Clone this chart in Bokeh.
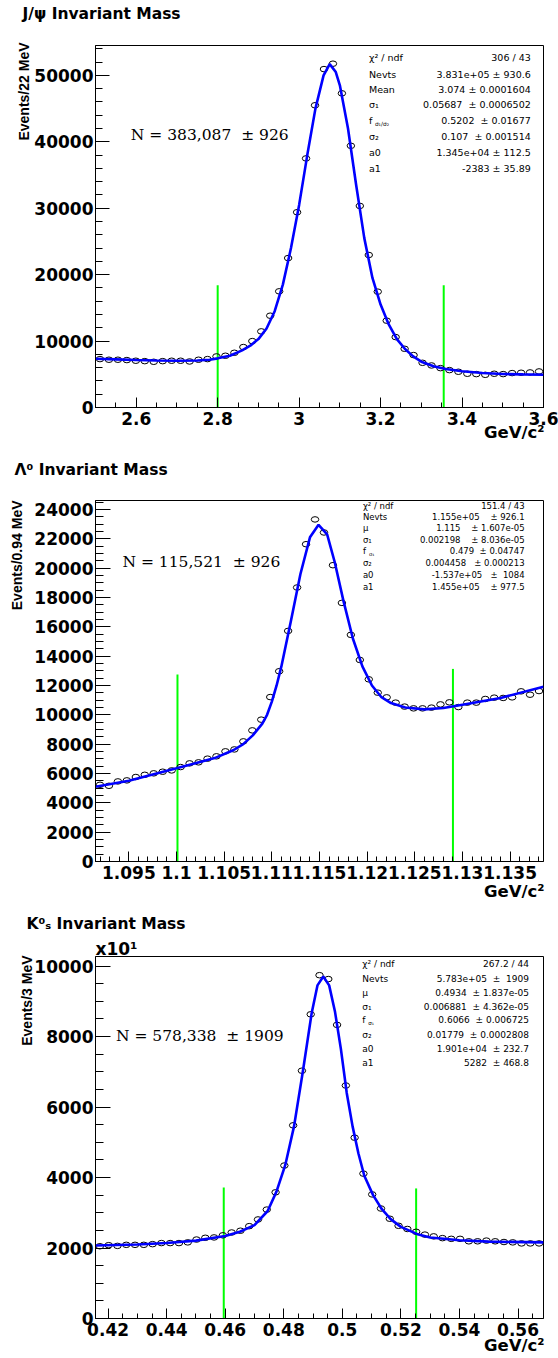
import numpy as np
from bokeh.plotting import figure
from bokeh.layouts import column
from bokeh.models import Label, FixedTicker, CustomJSTickFormatter, Range1d, Title
from bokeh.embed import file_html
from bokeh.resources import INLINE

# ---------------------------------------------------------------- data
# J/psi panel
jpsi_range = (2.5, 3.6)
jpsi_bin_width = 0.022
jpsi_counts = [7290, 7190, 7190, 7140, 7040, 6980, 6880, 6980, 7040, 7040,
               6930, 7190, 7290, 7690, 7790, 8240, 9100, 10000, 11460, 13820,
               17490, 22500, 29400, 37500, 45500, 50950, 51760, 47300, 39400, 30350,
               22960, 17440, 13070, 10600, 8840, 7890, 6730, 6330, 5930, 5630,
               5380, 5080, 5030, 4920, 5080, 5030, 5180, 5230, 5280, 5430]
jpsi_fit_x = [2.50, 2.55, 2.60, 2.65, 2.70, 2.75, 2.78, 2.80, 2.83, 2.86, 2.88, 2.90,
              2.92, 2.94, 2.96, 2.98, 3.00, 3.02, 3.04, 3.06, 3.075, 3.09, 3.10, 3.12,
              3.14, 3.16, 3.18, 3.20, 3.22, 3.24, 3.26, 3.28, 3.30, 3.33, 3.36, 3.40,
              3.45, 3.50, 3.55, 3.60]
jpsi_fit_y = [7350, 7250, 7150, 7070, 7030, 7070, 7200, 7400, 7800, 8600, 9300, 10300,
              11900, 14500, 18500, 24000, 30500, 38000, 45000, 50000, 51700, 50500, 48500, 42000,
              33500, 25500, 19500, 15500, 12500, 10300, 8800, 7700, 6900, 6200, 5800, 5450,
              5200, 5050, 4980, 4920]
jpsi_cuts = [2.80, 3.355]
jpsi_cut_heights = [18400, 18400]
jpsi_ymax = 54500
jpsi_xticks = [2.6, 2.8, 3.0, 3.2, 3.4, 3.6]
jpsi_yticks = [0, 10000, 20000, 30000, 40000, 50000]
jpsi_title = "J/ψ Invariant Mass"
jpsi_ytitle = "Events/22 MeV"
jpsi_stat_labels = ["χ² / ndf", "Nevts", "Mean", "σ₁", "f", "σ₂", "a0", "a1"]
jpsi_stat_values = ["306 / 43", "3.831e+05 ± 930.6", "3.074 ± 0.0001604",
                    "0.05687\u00a0\u00a0± 0.0006502", "0.5202\u00a0\u00a0± 0.01677",
                    "0.107\u00a0\u00a0± 0.001514", "1.345e+04 ± 112.5", "-2383 ± 35.89"]
jpsi_f_sub = "σ₁/σ₂"
jpsi_yield = "N = 383,087\u00a0\u00a0± 926"

# Lambda panel
lam_range = (1.0915, 1.1385)
lam_bin_width = 0.00094
lam_counts = [5230, 5160, 5460, 5530, 5760, 5910, 6010, 6120, 6210, 6440,
              6690, 6760, 7010, 7170, 7510, 7640, 8190, 8940, 9670, 11210,
              12970, 15720, 18680, 21630, 23320, 22430, 20200, 17630, 15450, 13740,
              12420, 11510, 11190, 10830, 10560, 10440, 10440, 10490, 10710, 10850,
              10530, 10830, 10830, 11080, 11170, 11150, 11190, 11600, 11370, 11620]
lam_fit_x = [1.0915, 1.095, 1.100, 1.104, 1.106, 1.107, 1.108, 1.109, 1.1095, 1.110,
             1.1105, 1.111, 1.112, 1.113, 1.114, 1.1149, 1.1158, 1.1166, 1.1175, 1.1185,
             1.1195, 1.1205, 1.1215, 1.1225, 1.124, 1.126, 1.128, 1.130, 1.134, 1.1385]
lam_fit_y = [5100, 5500, 6350, 7050, 7600, 8000, 8600, 9400, 10000, 10900,
             12000, 13300, 16400, 19600, 22100, 22950, 22300, 20400, 17800, 15200,
             13300, 12000, 11200, 10800, 10500, 10370, 10460, 10690, 11150, 11920]
lam_cuts = [1.1001, 1.129]
lam_cut_heights = [12740, 13130]
lam_ymax = 24610
lam_xticks = [1.095, 1.1, 1.105, 1.11, 1.115, 1.12, 1.125, 1.13, 1.135]
lam_yticks = [0, 2000, 4000, 6000, 8000, 10000, 12000, 14000, 16000, 18000, 20000, 22000, 24000]
lam_title = "Λ⁰ Invariant Mass"
lam_ytitle = "Events/0.94 MeV"
lam_stat_labels = ["χ² / ndf", "Nevts", "μ", "σ₁", "f", "σ₂", "a0", "a1"]
lam_stat_values = ["151.4 / 43", "1.155e+05\u00a0\u00a0\u00a0\u00a0± 926.1",
                   "1.115\u00a0\u00a0\u00a0\u00a0± 1.607e-05", "0.002198\u00a0\u00a0\u00a0\u00a0± 8.036e-05",
                   "0.479\u00a0\u00a0± 0.04747", "0.004458\u00a0\u00a0\u00a0± 0.000213",
                   "-1.537e+05\u00a0\u00a0\u00a0±\u00a0\u00a01084", "1.455e+05\u00a0\u00a0\u00a0\u00a0± 977.5"]
lam_f_sub = "σ₁"
lam_yield = "N = 115,521\u00a0\u00a0± 926"

# K0s panel (counts shown in units of 10)
ks_range = (0.4157, 0.5687)
ks_bin_width = 0.003
ks_counts_x10 = [2050, 2080, 2060, 2090, 2090, 2090, 2110, 2140, 2140, 2140,
                 2160, 2240, 2290, 2300, 2360, 2440, 2490, 2620, 2810, 3090,
                 3580, 4340, 5480, 7030, 8630, 9740, 9630, 8330, 6610, 5130,
                 4110, 3520, 3120, 2830, 2630, 2540, 2460, 2380, 2330, 2280,
                 2260, 2260, 2190, 2190, 2210, 2190, 2170, 2160, 2130, 2130, 2130]
ks_fit_x = [0.4157, 0.43, 0.44, 0.45, 0.46, 0.465, 0.47, 0.4745, 0.4775, 0.4805,
            0.4835, 0.4865, 0.4895, 0.4915, 0.4935, 0.4955, 0.4975, 0.4995, 0.5015, 0.5035,
            0.5055, 0.5075, 0.5105, 0.5135, 0.5165, 0.52, 0.526, 0.53, 0.54, 0.55, 0.5687]
ks_fit_y = [2070, 2100, 2140, 2210, 2340, 2460, 2650, 3050, 3600, 4350,
            5450, 7000, 8650, 9450, 9700, 9450, 8700, 7650, 6400, 5450,
            4680, 4050, 3500, 3100, 2820, 2600, 2380, 2300, 2220, 2180, 2160]
ks_cuts = [0.4595, 0.5252]
ks_cut_heights = [3720, 3690]
ks_ymax = 10270
ks_xticks = [0.42, 0.44, 0.46, 0.48, 0.5, 0.52, 0.54, 0.56]
ks_yticks = [0, 2000, 4000, 6000, 8000, 10000]
ks_title = "K⁰ₛ Invariant Mass"
ks_ytitle = "Events/3 MeV"
ks_multiplier = "x10¹"
ks_stat_labels = ["χ² / ndf", "Nevts", "μ", "σ₁", "f", "σ₂", "a0", "a1"]
ks_stat_values = ["267.2 / 44", "5.783e+05\u00a0\u00a0±\u00a0\u00a01909",
                  "0.4934\u00a0\u00a0± 1.837e-05", "0.006881\u00a0\u00a0± 4.362e-05",
                  "0.6066\u00a0\u00a0± 0.006725", "0.01779\u00a0\u00a0± 0.0002808",
                  "1.901e+04\u00a0\u00a0± 232.7", "5282\u00a0\u00a0± 468.8"]
ks_f_sub = "σ₁"
ks_yield = "N = 578,338\u00a0\u00a0± 1909"

x_title = "GeV/c²"

# ---------------------------------------------------------------- helpers
FIG_W = 558
BOLD_FONT = "DejaVu Sans"
TICK_FMT = CustomJSTickFormatter(code="const v = Math.round(tick*1e6)/1e6; return v.toString();")


def centers(rng, width, n):
    return [rng[0] + width * (i + 0.5) for i in range(n)]


def rng(a, b, step):
    return [round(v, 6) for v in np.arange(a, b + step / 2, step)]


def make_panel(top_page, height, frame, xr, yr, xticks, xminor, yticks, yminor,
               ytick_in, ytick_minor_in):
    L, R, T, B = frame
    p = figure(width=FIG_W, height=height, title=None,
               x_range=Range1d(*xr), y_range=Range1d(*yr),
               output_backend="svg", toolbar_location=None, tools="",
               min_border_left=L, min_border_right=FIG_W - R,
               min_border_top=T - top_page, min_border_bottom=top_page + height - B)
    p.xgrid.visible = False
    p.ygrid.visible = False
    p.outline_line_color = "black"
    p.outline_line_width = 1
    p.background_fill_color = "white"
    p.border_fill_color = "white"

    xa = p.xaxis[0]
    xa.ticker = FixedTicker(ticks=xticks, minor_ticks=xminor)
    xa.formatter = TICK_FMT
    xa.major_tick_in = 10
    xa.major_tick_out = 0
    xa.minor_tick_in = 5
    xa.minor_tick_out = 0
    xa.major_label_standoff = 4

    ya = p.yaxis[0]
    ya.ticker = FixedTicker(ticks=yticks, minor_ticks=yminor)
    ya.formatter = TICK_FMT
    ya.major_tick_in = ytick_in
    ya.major_tick_out = 0
    ya.minor_tick_in = ytick_minor_in
    ya.minor_tick_out = 0
    ya.major_label_standoff = 2

    for ax in (xa, ya):
        ax.axis_line_color = "black"
        ax.major_tick_line_color = "black"
        ax.minor_tick_line_color = "black"
        ax.major_label_text_font = BOLD_FONT
        ax.major_label_text_font_style = "bold"
        ax.major_label_text_font_size = "17px"
        ax.major_label_text_color = "black"

    def to_data(px, py):
        x = xr[0] + (px - L) / (R - L) * (xr[1] - xr[0])
        y = yr[0] + (B - py) / (B - T) * (yr[1] - yr[0])
        return x, y

    def text(px, py, s, size, font=BOLD_FONT, style="bold", align="left", baseline="middle"):
        x, y = to_data(px, py)
        p.add_layout(Label(x=x, y=y, text=s, text_font=font, text_font_size=f"{size}px",
                           text_font_style=style, text_align=align, text_baseline=baseline,
                           text_color="black"))
    return p, text


def side_title(p, side, s, size, align, valign, offset, standoff,
               font=BOLD_FONT, color="black"):
    p.add_layout(Title(text=s, align=align, vertical_align=valign, offset=offset,
                       standoff=standoff, text_font=font, text_font_size=f"{size}px",
                       text_font_style="bold", text_color=color), side)


def spacer(p, side, standoff):
    # blank, white band that only reserves room between the frame and a title
    side_title(p, side, "\u00a0", 1, "left", "top", 0, standoff, color="white")


def draw_content(p, xs, ys, fit_x, fit_y, cuts, cut_h):
    p.segment(x0=cuts, y0=[0] * len(cuts), x1=cuts, y1=cut_h,
              line_color="#00ff00", line_width=2)
    p.ellipse(x=xs, y=ys, width=7.5, height=5.5, width_units="screen",
              height_units="screen", fill_color=None, line_color="black", line_width=1)
    p.line(fit_x, fit_y, line_color="#0000ff", line_width=2.6)


def draw_stats(text, label_x, value_r, rows, labels, values, f_sub, size):
    for lab, val, ry in zip(labels, values, rows):
        text(label_x, ry, lab, size, style="normal")
        text(value_r, ry, val, size, style="normal", align="right")
        if lab == "f":
            text(label_x + 6, ry + 3, f_sub, size * 0.62, style="normal")


# ---------------------------------------------------------------- panel 1: J/psi
p1, t1 = make_panel(0, 455, (87, 544, 45, 407), jpsi_range, (0, jpsi_ymax),
                    jpsi_xticks, rng(2.5, 3.6, 0.05), jpsi_yticks, rng(0, 54000, 2000), 14, 7)
draw_content(p1, centers(jpsi_range, jpsi_bin_width, len(jpsi_counts)), jpsi_counts,
             jpsi_fit_x, jpsi_fit_y, jpsi_cuts, jpsi_cut_heights)
spacer(p1, "above", 18)
side_title(p1, "above", jpsi_title, 15.5, "left", "top", -73, 0)
side_title(p1, "left", jpsi_ytitle, 14, "right", "bottom", -3, 0, font="Liberation Sans")
side_title(p1, "below", x_title, 16.5, "right", "top", -1, -10)
t1(123, 134, jpsi_yield, 15.5, font="DejaVu Serif", style="normal")
draw_stats(t1, 366, 531, [57, 73.5, 88.5, 104, 120, 136, 152, 168],
           jpsi_stat_labels, jpsi_stat_values, jpsi_f_sub, 9.5)

# ---------------------------------------------------------------- panel 2: Lambda
p2, t2 = make_panel(455, 455, (95, 544, 500, 861), lam_range, (0, lam_ymax),
                    lam_xticks, rng(1.092, 1.138, 0.001), lam_yticks, rng(0, 24500, 500), 15, 8)
draw_content(p2, centers(lam_range, lam_bin_width, len(lam_counts)), lam_counts,
             lam_fit_x, lam_fit_y, lam_cuts, lam_cut_heights)
spacer(p2, "above", 13)
side_title(p2, "above", lam_title, 15.5, "left", "top", -81, 8)
side_title(p2, "left", lam_ytitle, 14, "right", "bottom", 0, 13, font="Liberation Sans")
side_title(p2, "below", x_title, 16.5, "right", "top", -1, 0)
t2(122, 561.5, lam_yield, 15.5, font="DejaVu Serif", style="normal")
draw_stats(t2, 363, 525, [505, 516.7, 527.7, 539.3, 550.7, 562.3, 574.3, 586.7],
           lam_stat_labels, lam_stat_values, lam_f_sub, 8.5)

# ---------------------------------------------------------------- panel 3: K0s
p3, t3 = make_panel(910, 448, (83, 543, 956, 1318), ks_range, (0, ks_ymax),
                    ks_xticks, rng(0.415, 0.57, 0.005), ks_yticks, rng(0, 10000, 500), 15, 8)
draw_content(p3, centers(ks_range, ks_bin_width, len(ks_counts_x10)), ks_counts_x10,
             ks_fit_x, ks_fit_y, ks_cuts, ks_cut_heights)
side_title(p3, "above", ks_multiplier, 17, "left", "bottom", 0, -4)
side_title(p3, "above", ks_title, 15.5, "left", "top", -69, 8)
side_title(p3, "left", ks_ytitle, 14, "right", "bottom", -1, -6, font="Liberation Sans")
side_title(p3, "below", x_title, 16.5, "right", "top", -1, -6)
t3(104, 1035, ks_yield, 15.5, font="DejaVu Serif", style="normal")
draw_stats(t3, 357, 528, [963.3, 978.3, 992.3, 1006, 1019.3, 1034, 1048.3, 1062.3],
           ks_stat_labels, ks_stat_values, ks_f_sub, 9)

layout = column(p1, p2, p3, spacing=0)
open("out.html", "w").write(file_html(layout, INLINE))
